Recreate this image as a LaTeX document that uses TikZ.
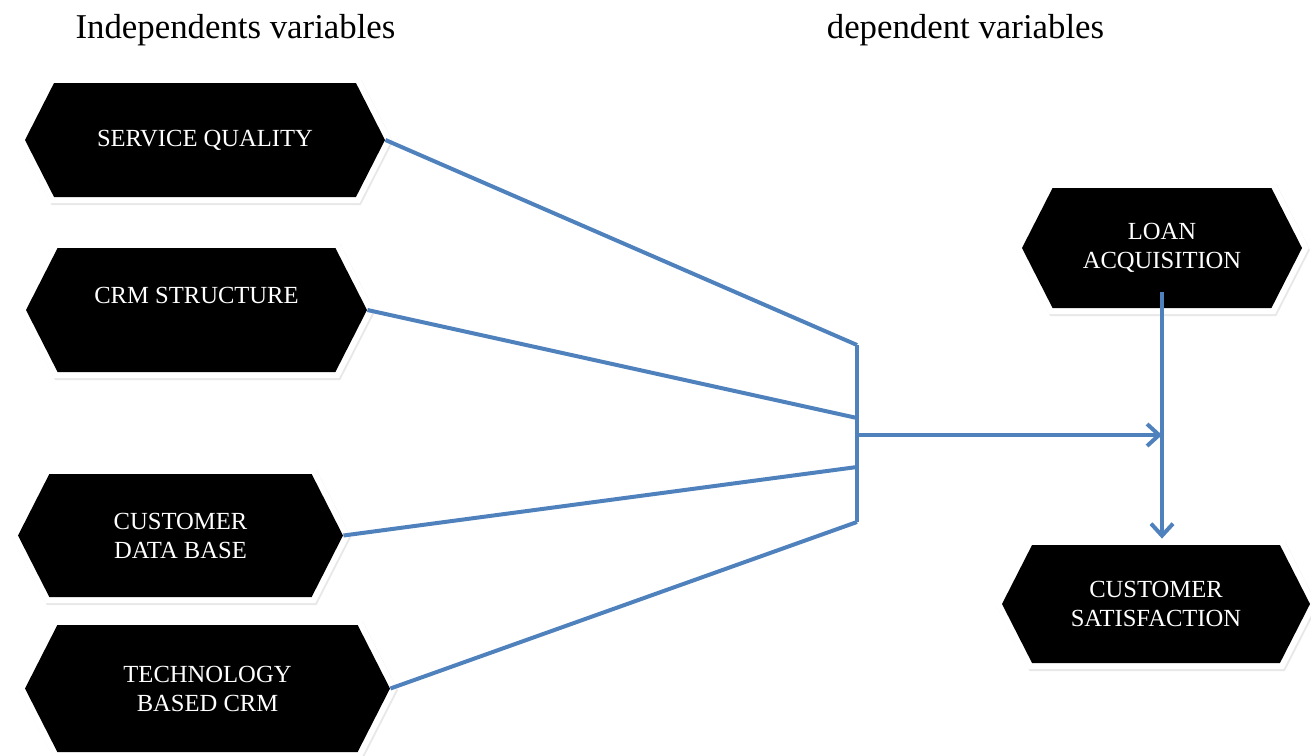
\documentclass[tikz,border=0pt]{standalone}
\usepackage{fontspec}
\setmainfont{Liberation Serif}
\usetikzlibrary{shapes.symbols,arrows.meta,calc}
\definecolor{linkblue}{RGB}{79,129,189}

\begin{document}
\begin{tikzpicture}[x=0.5pt,y=-0.5pt]
          \useasboundingbox (0,0) rectangle (1311,755);
          \tikzset{VarStyle/.style={signal, signal to=west and east, signal pointer angle=126,
              fill=black, text=white, align=center, inner sep=0pt,
              font=\fontsize{12.3}{14.5}\selectfont,
              preaction={draw=black!9, line width=6pt, transform canvas={xshift=0.6pt,yshift=-1pt}},
              preaction={draw=white, line width=6pt}}};
          \tikzset{EdgeStyle/.style={draw=linkblue, line width=2pt}};
          \tikzset{HeadStyle/.style={font=\fontsize{17.4}{20}\selectfont}};

          \node[HeadStyle] (indep) at (235.5,30) {Independents variables};
          \node[HeadStyle] (dep) at (965.5,30) {dependent variables};

          % independent variables
          \node[VarStyle, minimum width=180pt, minimum height=57pt] (sq) at (205,140) {SERVICE QUALITY};
          \node[VarStyle, minimum width=170.5pt, minimum height=62pt] (crm) at (196.5,310) {CRM STRUCTURE\\ \mbox{}};
          \node[VarStyle, minimum width=162.5pt, minimum height=61.5pt] (cdb) at (180.5,535.5) {CUSTOMER\\ DATA BASE};
          \node[VarStyle, minimum width=182.5pt, minimum height=63.5pt] (tech) at (207.5,688.5) {TECHNOLOGY\\ BASED CRM};

          % dependent variables
          \node[VarStyle, minimum width=140pt, minimum height=60pt] (loan) at (1162,248) {LOAN\\ ACQUISITION};
          \node[VarStyle, minimum width=154pt, minimum height=59pt] (csat) at (1156,604) {CUSTOMER\\ SATISFACTION};

          \coordinate (bartop) at (857,345);
          \coordinate (j1) at (857,418);
          \coordinate (hub) at (857,435);
          \coordinate (j2) at (857,467);
          \coordinate (barbot) at (857,522);

          \draw[EdgeStyle] (sq.east) -- (bartop);
          \draw[EdgeStyle] (crm.east) -- (j1);
          \draw[EdgeStyle] (cdb.east) -- (j2);
          \draw[EdgeStyle] (tech.east) -- (barbot);
          \draw[EdgeStyle] (bartop) -- (barbot);

          % arrows
          \tikzset{EdgeStyle/.append style = {-{Straight Barb[length=6pt,width=11pt]}}};
          \draw[EdgeStyle] (hub) -- (hub -| loan.south);
          \draw[EdgeStyle, shorten >=3pt] ([yshift=8pt]loan.south) -- (loan.south |- csat.north);
        \end{tikzpicture}
\end{document}
